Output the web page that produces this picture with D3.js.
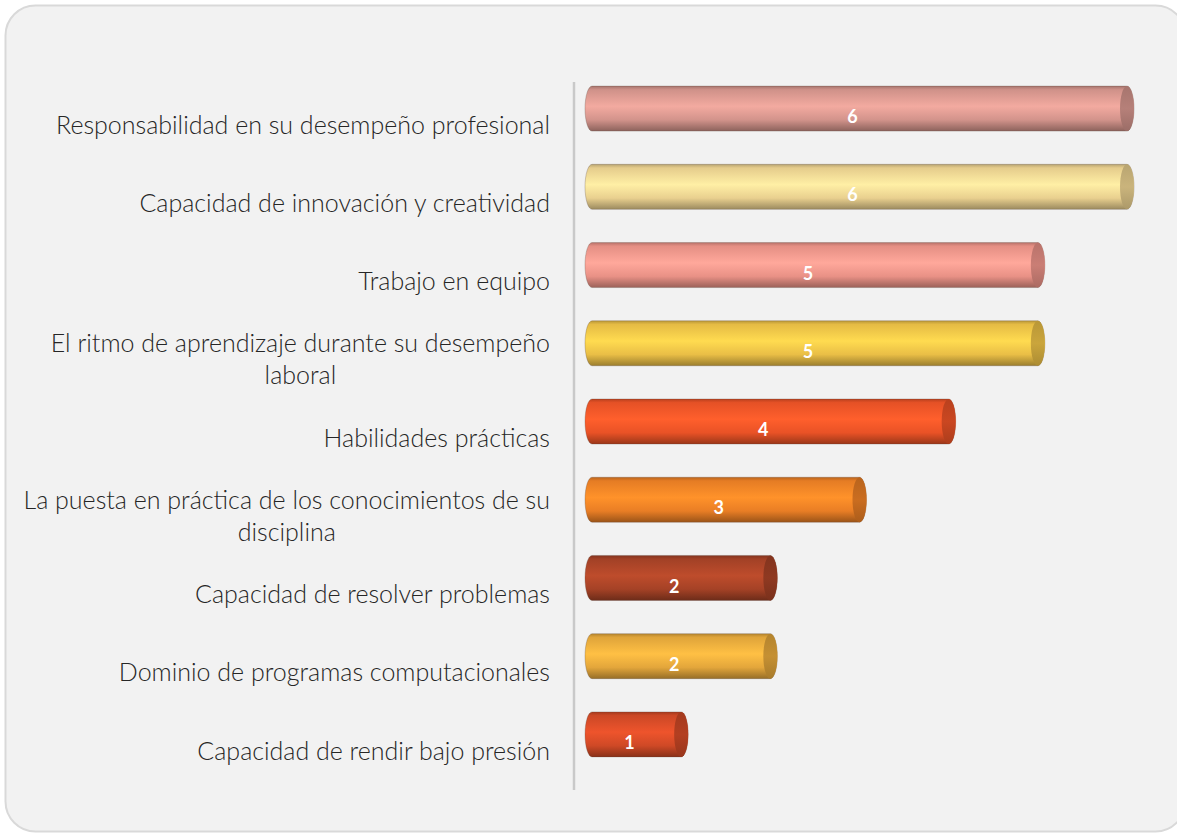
<!DOCTYPE html>
<html>
<head>
<meta charset="UTF-8">
<title>Competencias</title>
<script src="https://d3js.org/d3.v7.min.js"></script>
<style>
  body { margin: 0; background: #ffffff; }
  svg { display: block; }
</style>
</head>
<body>
<svg id="chart" width="1177" height="833"></svg>
<script>
// categories, top to bottom
const categories = [
  ["Responsabilidad en su desempeño profesional"],
  ["Capacidad de innovación y creatividad"],
  ["Trabajo en equipo"],
  ["El ritmo de aprendizaje durante su desempeño", "laboral"],
  ["Habilidades prácticas"],
  ["La puesta en práctica de los conocimientos de su", "disciplina"],
  ["Capacidad de resolver problemas"],
  ["Dominio de programas computacionales"],
  ["Capacidad de rendir bajo presión"]
];
const values = [6, 6, 5, 5, 4, 3, 2, 2, 1];
const barColors = ["#e6a198", "#ffe39c", "#ff9f93", "#ffd04c", "#ff5a2a",
                   "#ff8a28", "#b4482a", "#f8b640", "#e2502a"];

const svg = d3.select("#chart");

// card background
svg.append("rect")
  .attr("x", 5.5).attr("y", 5.5)
  .attr("width", 1180).attr("height", 826)
  .attr("rx", 30).attr("ry", 30)
  .attr("fill", "#f2f2f2")
  .attr("stroke", "#d9d9d9")
  .attr("stroke-width", 2);

const x = d3.scaleLinear().domain([0, 6]).range([592, 1127]);
const y = d3.scaleBand()
  .domain(d3.range(categories.length))
  .range([86, 790]);

const barH = 45, rx = 7, barShift = -16.5;

// gradients for cylinders
const defs = svg.append("defs");
barColors.forEach((c, i) => {
  const base = d3.color(c);
  const g = defs.append("linearGradient")
    .attr("id", "body" + i)
    .attr("x1", 0).attr("y1", 0).attr("x2", 0).attr("y2", 1);
  g.append("stop").attr("offset", "0%").attr("stop-color", base.darker(0.9));
  g.append("stop").attr("offset", "8%").attr("stop-color", base.darker(0.3));
  g.append("stop").attr("offset", "45%").attr("stop-color", base.brighter(0.15));
  g.append("stop").attr("offset", "75%").attr("stop-color", base.darker(0.25));
  g.append("stop").attr("offset", "100%").attr("stop-color", base.darker(1.4));

  const gc = defs.append("linearGradient")
    .attr("id", "cap" + i)
    .attr("x1", 0).attr("y1", 0).attr("x2", 0).attr("y2", 1);
  gc.append("stop").attr("offset", "0%").attr("stop-color", base.darker(0.9));
  gc.append("stop").attr("offset", "50%").attr("stop-color", base.darker(0.65));
  gc.append("stop").attr("offset", "100%").attr("stop-color", base.darker(1.1));
});

// axis line
svg.append("line")
  .attr("x1", 574).attr("x2", 574)
  .attr("y1", 82).attr("y2", 790)
  .attr("stroke", "#c9c9c9")
  .attr("stroke-width", 2.5);

const bars = svg.append("g")
  .selectAll("g")
  .data(values)
  .join("g");

bars.append("path")
  .attr("fill", (d, i) => "url(#body" + i + ")")
  .attr("stroke", "rgba(90,70,60,0.35)")
  .attr("stroke-width", 0.8)
  .attr("d", (d, i) => {
    const cy = y(i) + y.bandwidth() / 2 + barShift;
    const t = cy - barH / 2, b = cy + barH / 2;
    const x0 = x(0), x1 = x(d);
    return `M${x0},${t} L${x1},${t} A${rx},${barH / 2} 0 0 1 ${x1},${b}` +
           ` L${x0},${b} A${rx},${barH / 2} 0 0 1 ${x0},${t} Z`;
  });

bars.append("ellipse")
  .attr("cx", d => x(d))
  .attr("cy", (d, i) => y(i) + y.bandwidth() / 2 + barShift)
  .attr("rx", rx)
  .attr("ry", barH / 2)
  .attr("fill", (d, i) => "url(#cap" + i + ")");

bars.append("text")
  .attr("x", d => (x(0) + x(d)) / 2 - 7)
  .attr("y", (d, i) => y(i) + y.bandwidth() / 2 + barShift + 10)
  .attr("text-anchor", "middle")
  .attr("dominant-baseline", "middle")
  .attr("fill", "#ffffff")
  .attr("font-family", "Lato, 'Open Sans', sans-serif")
  .attr("font-weight", 700)
  .attr("font-size", 18)
  .text(d => d);

// category labels
const labels = svg.append("g")
  .attr("font-family", "Lato, 'Open Sans', sans-serif")
  .attr("font-weight", 300)
  .attr("font-size", 25)
  .attr("fill", "#262626");

categories.forEach((lines, i) => {
  const cy = y(i) + y.bandwidth() / 2 + 2.5;
  const lh = 32;
  const first = labels.append("text")
    .attr("x", 550)
    .attr("y", cy - (lines.length - 1) * lh / 2)
    .attr("text-anchor", "end")
    .attr("dominant-baseline", "middle")
    .text(lines[0]);
  if (lines.length > 1) {
    const w = first.node().getComputedTextLength();
    labels.append("text")
      .attr("x", 550 - w / 2)
      .attr("y", cy + lh / 2)
      .attr("text-anchor", "middle")
      .attr("dominant-baseline", "middle")
      .text(lines[1]);
  }
});
</script>
</body>
</html>
